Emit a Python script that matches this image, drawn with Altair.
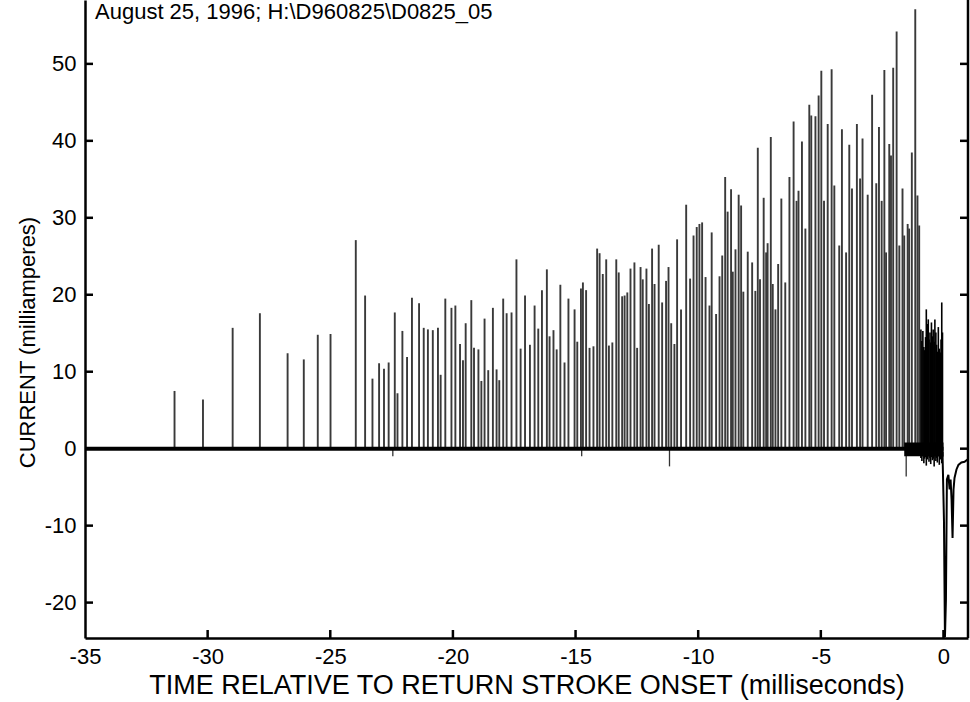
import altair as alt
import pandas as pd

# ---- data ----
spike_t = [-31.35, -30.19, -28.98, -27.87, -26.74, -26.08, -25.51, -24.99, -23.96, -23.58,
           -23.28, -23.01, -22.81, -22.62, -22.37, -22.26, -22.06, -21.87, -21.67, -21.38,
           -21.19, -21.02, -20.82, -20.61, -20.50, -20.31, -20.06, -19.90, -19.71, -19.59,
           -19.48, -19.25, -19.14, -18.96, -18.84, -18.71, -18.56, -18.37, -18.22, -18.11,
           -17.95, -17.81, -17.61, -17.41, -17.24, -17.06, -16.86, -16.67, -16.52, -16.37,
           -16.17, -16.06, -15.90, -15.77, -15.62, -15.45, -15.29, -15.04, -14.93, -14.78,
           -14.70, -14.57, -14.43, -14.27, -14.12, -14.02, -13.89, -13.75, -13.64, -13.50,
           -13.34, -13.24, -13.10, -13.00, -12.89, -12.76, -12.60, -12.49, -12.35, -12.26,
           -12.11, -12.01, -11.88, -11.78, -11.61, -11.47, -11.31, -11.21, -11.10, -10.97,
           -10.86, -10.70, -10.49, -10.33, -10.19, -10.06, -9.95, -9.84, -9.70, -9.54,
           -9.45, -9.27, -9.13, -9.02, -8.90, -8.80, -8.66, -8.59, -8.48, -8.35,
           -8.25, -8.16, -7.98, -7.80, -7.67, -7.57, -7.48, -7.33, -7.23, -7.17,
           -7.04, -6.96, -6.85, -6.74, -6.61, -6.45, -6.28, -6.11, -5.99, -5.91,
           -5.77, -5.63, -5.47, -5.39, -5.22, -5.09, -4.98, -4.87, -4.72, -4.56,
           -4.45, -4.25, -4.14, -3.97, -3.84, -3.73, -3.53, -3.40, -3.30, -3.09,
           -2.91, -2.74, -2.63, -2.52, -2.41, -2.34, -2.21, -2.14, -2.05, -1.91,
           -1.80, -1.67, -1.60, -1.46, -1.40, -1.29, -1.15, -1.06, -0.99]
spike_v = [7.5, 6.4, 15.7, 17.6, 12.4, 11.6, 14.8, 14.9, 27.1, 19.9,
           9.1, 11.1, 10.4, 11.2, 17.7, 7.2, 15.3, 11.9, 19.6, 18.9,
           15.7, 15.5, 15.4, 15.7, 9.6, 19.5, 18.3, 18.6, 13.6, 11.5,
           16.3, 19.3, 13.1, 12.9, 8.8, 16.9, 10.2, 18.3, 10.3, 8.9,
           19.5, 17.6, 17.7, 24.6, 13.0, 19.9, 13.5, 18.6, 15.6, 20.6,
           23.3, 14.6, 15.4, 12.9, 21.3, 11.2, 19.5, 18.1, 13.9, 20.8,
           21.6, 20.6, 13.1, 13.3, 26.0, 25.4, 22.7, 24.6, 13.4, 13.8,
           24.6, 22.9, 19.8, 19.9, 20.3, 23.4, 24.2, 13.1, 23.6, 22.0,
           23.4, 18.8, 26.0, 21.4, 26.5, 19.0, 21.8, 23.6, 16.3, 13.6,
           27.2, 18.1, 31.7, 22.1, 27.7, 28.8, 29.2, 29.4, 22.3, 18.6,
           28.1, 17.5, 22.4, 25.1, 35.3, 30.8, 33.7, 23.0, 25.9, 33.0,
           31.6, 20.4, 25.6, 24.2, 20.5, 39.1, 22.0, 32.6, 25.5, 26.7,
           40.5, 21.4, 18.1, 24.0, 32.5, 21.6, 35.3, 42.5, 32.2, 33.5,
           39.9, 28.6, 44.7, 43.3, 43.2, 45.9, 49.1, 32.2, 42.2, 49.3,
           34.2, 26.4, 41.5, 25.5, 39.5, 33.8, 42.2, 35.1, 40.3, 33.0,
           46.0, 34.5, 41.8, 32.2, 49.2, 25.5, 39.6, 38.1, 49.5, 54.2,
           26.4, 33.8, 27.7, 29.2, 28.6, 38.5, 57.1, 32.9, 29.0]

dense_t = [-0.92, -0.88, -0.84, -0.80, -0.77, -0.73, -0.70, -0.66, -0.62, -0.59,
           -0.55, -0.52, -0.49, -0.45, -0.42, -0.38, -0.35, -0.31, -0.28, -0.25,
           -0.21, -0.17, -0.13, -0.10, -0.07, -0.04]
dense_v = [15.5, 14.0, 15.3, 13.2, 12.8, 14.5, 18.1, 16.2, 16.8, 14.2,
           15.1, 13.8, 16.4, 14.6, 15.5, 13.9, 16.8, 15.1, 13.5, 12.6,
           15.8, 13.0, 12.5, 14.2, 19.0, 15.1]
dense_lo = [-1.2, -1.6, -1.0, -1.9, -1.3, -1.1, -2.2, -1.4, -1.0, -1.7,
            -1.2, -2.0, -1.1, -1.5, -1.3, -2.3, -1.0, -1.6, -1.2, -1.8,
            -1.0, -2.1, -1.4, -1.2, -1.9, -1.1]

neg_t = [-22.45, -14.75, -11.17, -1.52]
neg_v = [-1.0, -1.0, -2.3, -3.6]

tail_t = [-0.04, 0.02, 0.06, 0.10, 0.14, 0.20, 0.25, 0.29, 0.33, 0.37, 0.41, 0.45, 0.53, 0.61, 0.73, 0.86, 0.98]
tail_v = [-0.4, -9.3, -24.5, -19.7, -4.0, -3.4, -5.3, -4.0, -6.6, -11.6, -5.3, -3.8, -2.7, -2.1, -1.8, -1.7, -1.4]

base_t0, base_t1, base_v = [-35.0], [0.0], [0.0]
band_t0, band_t1, band_lo, band_hi = [-1.6], [0.0], [-1.0], [0.8]

x_ticks = [-35, -30, -25, -20, -15, -10, -5, 0]
x_inner_ticks = [-30, -25, -20, -15, -10, -5, 0]
y_ticks = [-20, -10, 0, 10, 20, 30, 40, 50]
note = ["August 25, 1996; H:\\D960825\\D0825_05"]

# ---- layout ----
W, H = 883, 638
FONT = "Liberation Sans"
xs = alt.Scale(domain=[-35, 1], nice=False, zero=False)
ys = alt.Scale(domain=[-24.6, 58.3], nice=False, zero=False)

spikes = pd.DataFrame({"t": spike_t, "v": spike_v, "b": [0.0] * len(spike_t)})
dense = pd.DataFrame({"t": dense_t, "v": dense_v, "lo": dense_lo})
negs = pd.DataFrame({"t": neg_t, "v": neg_v, "b": [0.0] * len(neg_t)})
tail = pd.DataFrame({"t": tail_t, "v": tail_v})
base = pd.DataFrame({"t0": base_t0, "t1": base_t1, "v": base_v})
band = pd.DataFrame({"t0": band_t0, "t1": band_t1, "lo": band_lo, "hi": band_hi})
yt = pd.DataFrame({"v": y_ticks})
xt = pd.DataFrame({"t": x_inner_ticks})
txt = pd.DataFrame({"label": note})

x_axis = alt.Axis(values=x_ticks, ticks=False, grid=False, domainColor="black", domainWidth=2.5,
                  labelFont=FONT, labelFontSize=22, labelColor="black", labelPadding=8,
                  labelFlush=False, labelOverlap=False, labelExpr="'' + datum.value",
                  title="TIME RELATIVE TO RETURN STROKE ONSET (milliseconds)",
                  titleFont=FONT, titleFontSize=27, titleFontWeight="normal", titleColor="black",
                  titleY=47, titleBaseline="middle")
y_axis = alt.Axis(values=y_ticks, ticks=False, grid=False, domainColor="black", domainWidth=2.5,
                  labelFont=FONT, labelFontSize=22, labelColor="black", labelPadding=9,
                  labelFlush=False, labelOverlap=False, labelExpr="'' + datum.value",
                  title="CURRENT (milliamperes)", titleFont=FONT, titleFontSize=22,
                  titleFontWeight="normal", titleColor="black", titleX=-58, titleY=342,
                  titleBaseline="middle", titleAngle=270)

X = lambda f: alt.X(f, scale=xs, axis=x_axis)
Y = lambda f: alt.Y(f, scale=ys, axis=y_axis)

spike_layer = alt.Chart(spikes).mark_rule(color="#3a3a3a", strokeWidth=1.9).encode(
    x=X("t:Q"), y=Y("b:Q"), y2="v:Q")
base_layer = alt.Chart(base).mark_rule(color="black", strokeWidth=4).encode(
    x=X("t0:Q"), x2="t1:Q", y=Y("v:Q"))
band_layer = alt.Chart(band).mark_rect(color="black").encode(
    x=X("t0:Q"), x2="t1:Q", y=Y("lo:Q"), y2="hi:Q")
dense_layer = alt.Chart(dense).mark_rule(color="black", strokeWidth=1.6).encode(
    x=X("t:Q"), y=Y("lo:Q"), y2="v:Q")
neg_layer = alt.Chart(negs).mark_rule(color="#333", strokeWidth=1.3).encode(
    x=X("t:Q"), y=Y("b:Q"), y2="v:Q")
tail_layer = alt.Chart(tail).mark_line(color="black", strokeWidth=2).encode(
    x=X("t:Q"), y=Y("v:Q"))
ytick_l = alt.Chart(yt).mark_rule(color="black", strokeWidth=2.5).encode(
    y=Y("v:Q"), x=alt.value(0), x2=alt.value(8))
ytick_r = alt.Chart(yt).mark_rule(color="black", strokeWidth=2.5).encode(
    y=Y("v:Q"), x=alt.value(W - 8), x2=alt.value(W))
xtick_b = alt.Chart(xt).mark_rule(color="black", strokeWidth=2.5).encode(
    x=X("t:Q"), y=alt.value(H - 8), y2=alt.value(H))
right_spine = alt.Chart(txt).mark_rule(color="black", strokeWidth=2.5).encode(
    x=alt.value(W), y=alt.value(0), y2=alt.value(H))
note_layer = alt.Chart(txt).mark_text(align="left", baseline="top", font=FONT,
                                      fontSize=22, color="black").encode(
    x=alt.value(10), y=alt.value(2), text="label:N")

chart = alt.layer(
    spike_layer, neg_layer, base_layer, band_layer, dense_layer, tail_layer,
    ytick_l, ytick_r, xtick_b, right_spine, note_layer,
).properties(
    width=W, height=H,
    padding={"left": 85, "top": 0, "right": 2, "bottom": 64},
    autosize=alt.AutoSizeParams(type="none"),
    background="white",
).configure_view(stroke=None)

chart.save("out.html", embed_options={"renderer": "svg", "actions": False})
